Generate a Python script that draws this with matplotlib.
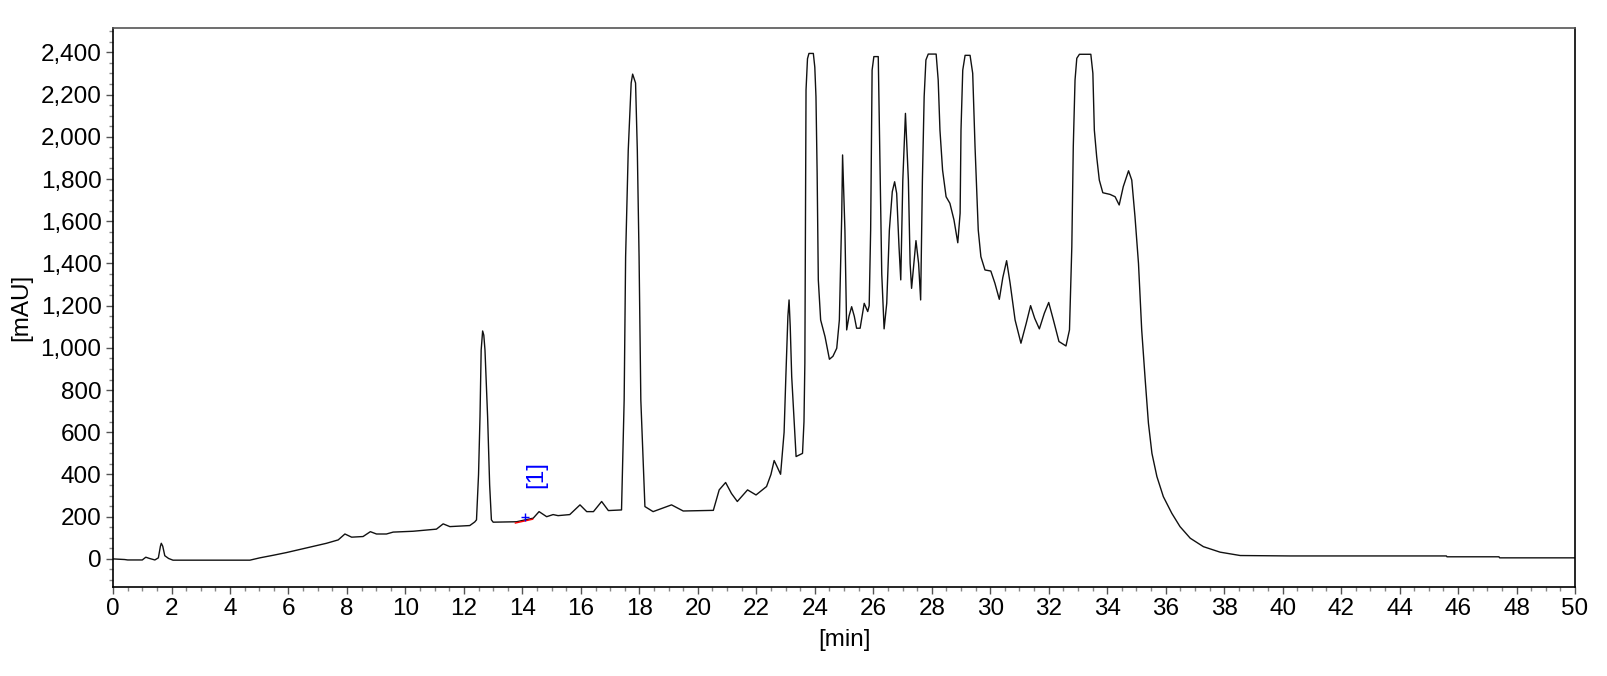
import numpy as np
import matplotlib
matplotlib.use("Agg")
import matplotlib.pyplot as plt
from matplotlib.ticker import MultipleLocator, FuncFormatter


''' Data (read off the chromatogram) '''
time_min = [
    0.0, 0.4, 0.5, 1.0, 1.12, 1.25, 1.43, 1.55, 1.62, 1.65, 1.70, 1.77, 1.9, 2.05,
    4.68, 5.02, 5.47, 5.93, 6.62, 7.30, 7.70, 7.93, 8.16, 8.55, 8.80, 9.01, 9.35,
    9.58, 10.26, 11.06, 11.29, 11.52, 12.20, 12.37, 12.43, 12.50, 12.55, 12.59,
    12.64, 12.68, 12.72, 12.81, 12.88, 12.94, 13.0, 13.8, 14.37, 14.57, 14.83,
    15.05, 15.22, 15.62, 15.97, 16.2, 16.43, 16.71, 16.94, 17.39, 17.48, 17.53,
    17.62, 17.72, 17.77, 17.87, 17.93, 17.99, 18.05, 18.19, 18.47, 19.10, 19.5,
    20.53, 20.73, 20.95, 21.15, 21.35, 21.70, 21.99, 22.35, 22.50, 22.61, 22.70,
    22.83, 22.95, 23.01, 23.08, 23.12, 23.16, 23.21, 23.36, 23.58, 23.63, 23.66,
    23.70, 23.75, 23.80, 23.95, 24.00, 24.04, 24.08, 24.12, 24.20, 24.35, 24.50,
    24.62, 24.75, 24.84, 24.92, 24.95, 25.03, 25.09, 25.17, 25.26, 25.35, 25.43,
    25.55, 25.69, 25.81, 25.86, 25.91, 25.96, 26.02, 26.17, 26.23, 26.29, 26.37,
    26.46, 26.55, 26.65, 26.73, 26.80, 26.88, 26.94, 27.01, 27.10, 27.20, 27.26,
    27.31, 27.39, 27.46, 27.55, 27.62, 27.68, 27.74, 27.80, 27.88, 28.15, 28.22,
    28.28, 28.37, 28.49, 28.62, 28.76, 28.89, 28.97, 29.00, 29.06, 29.14, 29.31,
    29.40, 29.48, 29.59, 29.68, 29.82, 30.02, 30.16, 30.31, 30.43, 30.56, 30.68,
    30.85, 31.05, 31.23, 31.38, 31.52, 31.68, 31.85, 32.00, 32.16, 32.35, 32.59,
    32.71, 32.79, 32.84, 32.90, 32.96, 33.05, 33.44, 33.51, 33.56, 33.64, 33.73,
    33.85, 34.10, 34.27, 34.41, 34.55, 34.73, 34.84, 34.95, 35.07, 35.18, 35.30,
    35.41, 35.53, 35.70, 35.92, 36.21, 36.49, 36.84, 37.29, 37.86, 38.55, 40.25,
    45.6, 45.62, 47.4, 47.42, 50.0,
]
signal_mau = [
    0, -3, -5, -5, 8, 2, -5, 5, 60, 74, 60, 15, 2, -6,
    -6, 5, 17, 30, 52, 74, 90, 118, 103, 106, 129, 118, 118,
    127, 131, 141, 166, 153, 158, 175, 185, 400, 674, 990,
    1080, 1060, 990, 674, 350, 185, 174, 176, 193, 224, 200,
    210, 205, 210, 256, 224, 224, 272, 229, 232, 753, 1432,
    1937, 2255, 2297, 2255, 1937, 1432, 753, 248, 224, 256, 227,
    230, 327, 362, 310, 272, 327, 303, 343, 400, 466, 440,
    401, 600, 864, 1150, 1227, 1100, 864, 485, 500, 650, 928,
    2222, 2370, 2395, 2395, 2330, 2190, 1827, 1322, 1132, 1053, 946,
    960, 998, 1132, 1622, 1914, 1558, 1085, 1150, 1195, 1150, 1093,
    1093, 1211, 1172, 1200, 1558, 2316, 2380, 2380, 1858, 1350, 1090,
    1211, 1558, 1740, 1787, 1732, 1479, 1322, 1795, 2111, 1795, 1400,
    1282, 1400, 1508, 1400, 1227, 1795, 2190, 2364, 2392, 2392, 2269,
    2032, 1842, 1716, 1685, 1606, 1498, 1638, 2032, 2316, 2386, 2386,
    2301, 1953, 1558, 1432, 1369, 1364, 1306, 1230, 1333, 1413, 1306,
    1132, 1022, 1116, 1200, 1140, 1090, 1164, 1215, 1132, 1030, 1009,
    1085, 1479, 1953, 2269, 2372, 2391, 2391, 2301, 2032, 1906, 1795,
    1735, 1727, 1716, 1677, 1764, 1839, 1795, 1622, 1400, 1085, 848,
    643, 500, 390, 295, 216, 153, 98, 58, 32, 16, 14,
    14, 10, 10, 5, 5,
]

# integration baseline of peak [1]
base_times = [13.76, 14.35]
base_values = [170, 188]

peak_time = 14.08
peak_value = 197
peak_label = "[1]"
label_time = 14.48
label_value = 398


''' Plot '''
plt.rcParams["font.family"] = ["Liberation Sans", "DejaVu Sans"]
FS = 17.5

fig = plt.figure(figsize=(16.08, 6.76), dpi=100)
ax = fig.add_axes([0.0703, 0.1317, 0.9092, 0.8264])

ax.plot(time_min, signal_mau, color="#111111", lw=1.0)
ax.plot(base_times, base_values, color="red", lw=1.0)
ax.plot([peak_time], [peak_value], marker="+", color="blue", ms=6, mew=1)
ax.text(label_time, label_value, peak_label, color="blue", fontsize=FS,
        rotation=90, ha="center", va="center")

ax.set_xlim(0, 50)
ax.set_ylim(-133, 2514)

ax.xaxis.set_major_locator(MultipleLocator(2))
ax.xaxis.set_minor_locator(MultipleLocator(0.5))
ax.yaxis.set_major_locator(MultipleLocator(200))
ax.yaxis.set_minor_locator(MultipleLocator(50))
ax.yaxis.set_major_formatter(FuncFormatter(lambda v, p: f"{int(round(v)):,}"))

ax.tick_params(which="major", length=5, width=1, color="#555555",
               labelsize=FS, pad=3.3)
ax.tick_params(which="minor", length=3, width=1, color="#888888")

for side in ["left", "bottom", "right"]:
    ax.spines[side].set_color("black")
    ax.spines[side].set_linewidth(1.2)
ax.spines["top"].set_color("#555555")
ax.spines["top"].set_linewidth(1.2)

ax.set_xlabel("[min]", fontsize=FS)
ax.set_ylabel("[mAU]", fontsize=FS)
ax.xaxis.set_label_coords(0.5, -0.075)
ax.yaxis.set_label_coords(-0.0554, 0.5)

fig.savefig("out.png", dpi=100)
